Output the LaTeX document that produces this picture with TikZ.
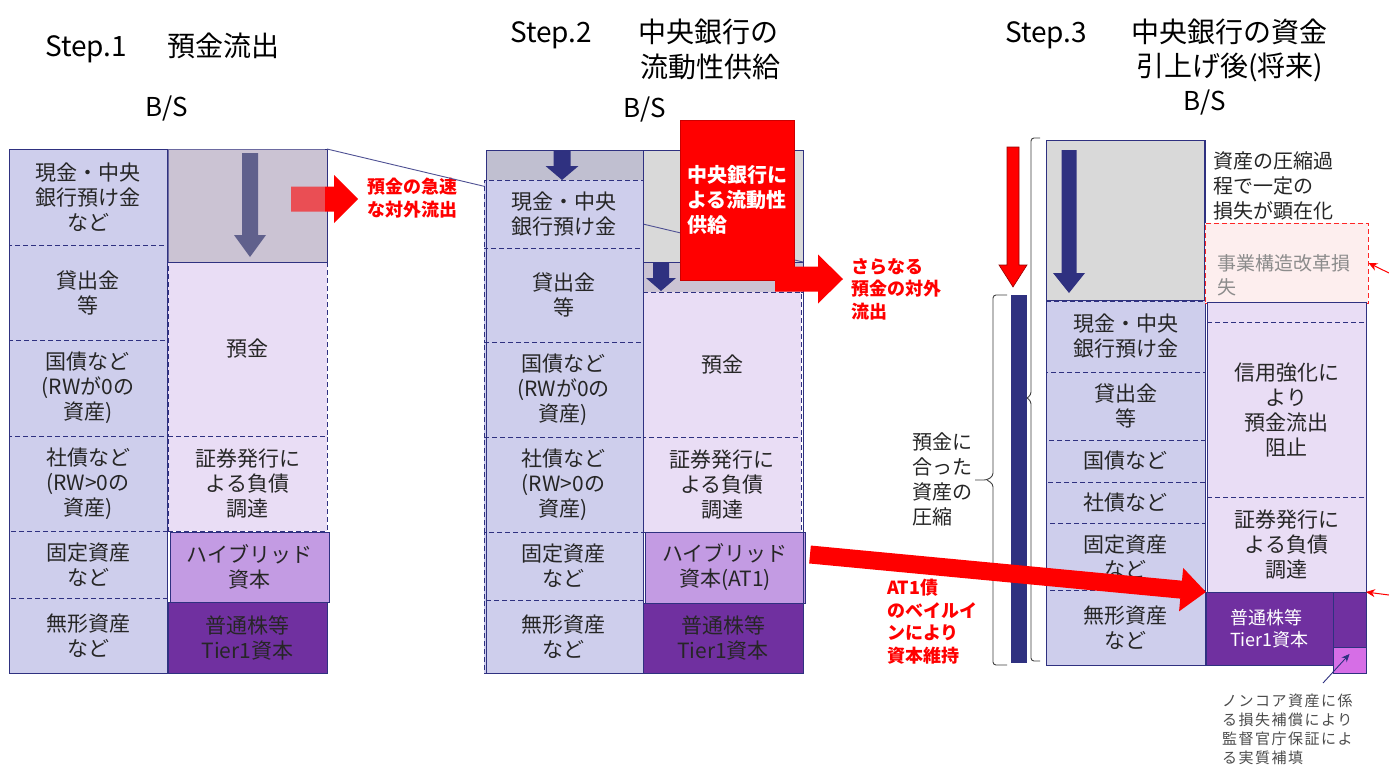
\documentclass[tikz,border=0pt]{standalone}
\usepackage{fontspec}
\setmainfont{Noto Sans CJK JP}
\usetikzlibrary{arrows.meta,calc}
\definecolor{navy}{RGB}{47,49,128}
\definecolor{navysoft}{RGB}{96,96,140}
\definecolor{assetfill}{RGB}{206,206,236}
\definecolor{liabfill}{RGB}{233,221,245}
\definecolor{hybfill}{RGB}{195,155,227}
\definecolor{cetfill}{RGB}{112,48,160}
\definecolor{greyA}{RGB}{203,195,211}
\definecolor{greyB}{RGB}{192,191,208}
\definecolor{greyC}{RGB}{217,217,217}
\definecolor{pinkbox}{RGB}{214,110,230}
\definecolor{lossfill}{RGB}{253,238,238}
\definecolor{textdark}{RGB}{38,38,38}
\definecolor{darkred}{RGB}{150,0,0}
\newcommand{\mkcell}[6][]{\node[cellbase,#1,minimum width={(#5-#3)*1pt},minimum height={(#6-#4)*1pt}] (#2) at ({(#3+#5)/2},{(#4+#6)/2})}
\newcommand{\dnarrow}[7][]{\filldraw[#1] ({#2-#5/2},#3) -- ({#2+#5/2},#3) -- ({#2+#5/2},{#4-#7}) -- ({#2+#6/2},{#4-#7}) -- (#2,#4) -- ({#2-#6/2},{#4-#7}) -- ({#2-#5/2},{#4-#7}) -- cycle;}
\newcommand{\rtarrow}[7][]{\filldraw[#1] (#2,{#4-#5/2}) -- ({#3-#7},{#4-#5/2}) -- ({#3-#7},{#4-#6/2}) -- (#3,#4) -- ({#3-#7},{#4+#6/2}) -- ({#3-#7},{#4+#5/2}) -- (#2,{#4+#5/2}) -- cycle;}
\tikzset{
  cellbase/.style={draw=navy,line width=0.9pt,inner sep=0pt,outer sep=0pt,align=center,text=textdark,font=\fontsize{21}{25}\selectfont},
  asset/.style={fill=assetfill,dash pattern=on 5pt off 3pt},
  liab/.style={fill=liabfill,dash pattern=on 5pt off 3pt},
  hyb/.style={fill=hybfill,solid},
  cet/.style={fill=cetfill,solid},
  greybox/.style={solid},
  frame/.style={draw=navy,line width=1pt},
  title/.style={font=\fontsize{28}{32}\selectfont,text=black,inner sep=0pt},
  bs/.style={font=\fontsize{26}{30}\selectfont,text=black,inner sep=0pt},
  redlabel/.style={font=\fontsize{18}{22.5}\selectfont\bfseries,text=red,align=left,inner sep=0pt,anchor=north west},
  plainlabel/.style={font=\fontsize{20}{25}\selectfont,text=textdark,align=left,inner sep=0pt,anchor=north west},
  thinlink/.style={draw=navy!85,line width=0.9pt},
  bracestyle/.style={draw=black!75,line width=0.9pt,rounded corners=3pt},
}
\begin{document}
\begin{tikzpicture}[x=1pt,y=-1pt]
\useasboundingbox (0,0) rectangle (1389,774);
\fill[white] (0,0) rectangle (1389,774);

% ---------- titles ----------
\node[title,anchor=base west] (t1) at (45,56) {Step.1\hspace{40pt}預金流出};
\node[bs] (bs1) at (167,109) {B/S};
\node[title,anchor=base west] (t2a) at (510,42) {Step.2\hspace{46pt}中央銀行の};
\node[title,anchor=base west] (t2b) at (640,77) {流動性供給};
\node[bs] (bs2) at (645,110) {B/S};
\node[title,anchor=base west] (t3a) at (1005,42) {Step.3\hspace{44pt}中央銀行の資金};
\node[title,anchor=base west] (t3b) at (1136,76) {引上げ後(将来)};
\node[bs] (bs3) at (1205,103) {B/S};

% ---------- Step 1 ----------
\mkcell[asset]{s1a}{9}{149}{167}{245}{現金・中央\\銀行預け金\\など};
\mkcell[asset]{s1b}{9}{245}{167}{340}{貸出金\\等};
\mkcell[asset]{s1c}{9}{340}{167}{436}{国債など\\(RWが0の\\資産)};
\mkcell[asset]{s1d}{9}{436}{167}{531}{社債など\\(RW>0の\\資産)};
\mkcell[asset]{s1e}{9}{531}{167}{598}{固定資産\\など};
\mkcell[asset]{s1f}{9}{598}{167}{673}{無形資産\\など};
\mkcell[liab]{s1dep}{168}{262}{327}{436}{預金};
\mkcell[liab]{s1sec}{168}{436}{327}{531}{証券発行に\\よる負債\\調達};
\mkcell[hyb]{s1hyb}{170}{532}{329}{602}{ハイブリッド\\資本};
\mkcell[cet]{s1cet}{168}{602}{327}{673}{普通株等\\Tier1資本};
\draw[frame] (s1a.north west) rectangle (s1f.south east);
\mkcell[greybox,fill=greyA]{s1g}{168}{149}{327}{262}{};
\rtarrow[fill=red,draw=none]{291}{358}{199}{25}{48}{24}
\fill[greyA,opacity=0.4] (s1g.north west) rectangle ($(s1g.south east)+(-2,0)$);
\dnarrow[fill=navysoft,draw=none]{250}{153}{257}{16}{32}{22}
\node[redlabel] (l1) at (367,178) {預金の急速\\な対外流出};

% ---------- Step 2 ----------
\mkcell[greybox,fill=greyC]{s2rg}{643}{150}{803}{262}{};
\mkcell[greybox,fill=greyA]{s2strip}{643}{262}{803}{292}{};
\draw[thinlink] (s1g.north east) -- (s2strip.north east);
\mkcell[greybox,fill=greyB]{s2s}{486}{150}{643}{180}{};
\mkcell[asset]{s2a}{484}{180}{643}{248}{現金・中央\\銀行預け金};
\mkcell[asset]{s2b}{484}{248}{643}{342}{貸出金\\等};
\mkcell[asset]{s2c}{484}{342}{643}{437}{国債など\\(RWが0の\\資産)};
\mkcell[asset]{s2d}{484}{437}{643}{532}{社債など\\(RW>0の\\資産)};
\mkcell[asset]{s2e}{484}{532}{643}{600}{固定資産\\など};
\mkcell[asset]{s2f}{484}{600}{643}{673}{無形資産\\など};
\mkcell[liab]{s2dep}{643}{292}{801}{437}{預金};
\mkcell[liab]{s2sec}{643}{437}{801}{532}{証券発行に\\よる負債\\調達};
\mkcell[hyb]{s2hyb}{645}{532}{805}{603}{ハイブリッド\\資本(AT1)};
\mkcell[cet]{s2cet}{643}{603}{803}{673}{普通株等\\Tier1資本};
\draw[frame] (s2s.north west) rectangle (s2f.south east);
\draw[frame] (s2rg.north west) rectangle (s2cet.south east);
\dnarrow[fill=navy,draw=none]{562}{150}{180}{17}{33}{14}
\dnarrow[fill=navy,draw=none]{661}{262}{291}{16}{30}{13}
\node[draw=red!80!black,fill=red,line width=0.8pt,minimum width=114pt,minimum height=160pt,inner sep=0pt,
      text=white,align=left,font=\fontsize{20}{25}\selectfont\bfseries] (s2cb) at (737,200)
      {中央銀行に\\よる流動性\\供給};
\rtarrow[fill=red,draw=none]{775}{843}{279}{25}{49}{25}
\node[redlabel] (l2) at (851,258) {さらなる\\預金の対外\\流出};

% ---------- Step 3 ----------
\mkcell[greybox,fill=greyC]{s3g}{1046}{140}{1204}{300}{};
\mkcell[asset]{s3a}{1046}{301}{1205}{372}{現金・中央\\銀行預け金};
\mkcell[asset]{s3b}{1046}{372}{1205}{440}{貸出金\\等};
\mkcell[asset]{s3c}{1046}{440}{1205}{482}{国債など};
\mkcell[asset]{s3d}{1046}{482}{1205}{523}{社債など};
\mkcell[asset]{s3e}{1046}{523}{1205}{590}{固定資産\\など};
\mkcell[asset]{s3f}{1046}{590}{1205}{665}{無形資産\\など};
\draw[frame] (s3g.north west) rectangle (s3f.south east);
\dnarrow[fill=navy,draw=none]{1069}{150}{293}{15}{32}{20}

\node[plainlabel] (l3top) at (1213,151) {資産の圧縮過\\程で一定の\\損失が顕在化};
\node[draw=red!85,fill=lossfill,dash pattern=on 5pt off 3pt,line width=1pt,minimum width=163pt,minimum height=80pt,inner sep=0pt] (s3loss) at (1286.5,263) {};
\node[anchor=west,inner sep=0pt,align=left,text=black!45,font=\fontsize{19}{24}\selectfont] (s3losst) at (1217,275) {事業構造改革損\\失};

\mkcell[greybox,fill=liabfill]{s3lav}{1207}{302}{1366}{592}{};
\mkcell[liab,fill=none]{s3dep}{1207}{322}{1366}{497}{信用強化に\\より\\預金流出\\阻止};
\mkcell[liab,fill=none]{s3sec}{1207}{497}{1366}{592}{証券発行に\\よる負債\\調達};
\mkcell[cet,text=white,align=left,font=\fontsize{18}{22}\selectfont]{s3cet}{1206}{592}{1333}{665}{普通株等\\Tier1資本};
\mkcell[cet]{s3small}{1333}{592}{1366}{647}{};
\mkcell[greybox,fill=pinkbox]{s3pink}{1333}{647}{1366}{673}{};

% left markers of step 3
\dnarrow[fill=red,draw=darkred,line width=0.6pt]{1013}{147}{287}{12}{28}{22}
\node[fill=navy,draw=navy,minimum width=15pt,minimum height=367pt,inner sep=0pt] (s3bar) at (1018.5,478.5) {};
\draw[bracestyle] (1007,295) -- (993,295) -- (993,476) -- (987,480) -- (975,480);
\draw[bracestyle] (987,480) -- (993,484) -- (993,665) -- (1007,665);
\draw[bracestyle] (1040,138) -- (1031,138) -- (1031,395) -- (1027,398);
\draw[bracestyle] (1027,398) -- (1031,401) -- (1031,661) -- (1040,661);
\node[plainlabel] (l3brace) at (912,432) {預金に\\合った\\資産の\\圧縮};

% AT1 bail-in arrow
\draw[red,line width=18pt,-{Triangle[length=25pt,width=42pt]}] ($(s2hyb.east)+(5,-13)$) -- (s3cet.north west);
\node[redlabel] (l4) at (887,579) {AT1債\\のベイルイ\\ンにより\\資本維持};

% guarantee annotation
\coordinate (annc) at (1323,683);
\draw[navy,line width=0.9pt,-{Stealth[length=8pt,width=7pt]}] (annc) -- ($(s3pink.center)+(0,-6)$);
\node[anchor=north west,inner sep=0pt,align=left,text=black!70,font=\fontsize{15}{19}\selectfont\addfontfeatures{LetterSpace=10}] (ann) at (1222,694)
  {ノンコア資産に係\\る損失補償により\\監督官庁保証によ\\る実質補填};

% arrows entering from the right edge
\coordinate (re1) at (1389,273);
\coordinate (re2) at (1389,595);
\draw[red,line width=1pt,-{Stealth[length=9pt,width=8pt]}] (re1) -- (s3loss.east);
\draw[red,line width=1pt,-{Stealth[length=9pt,width=8pt]}] (re2) -- (s3lav.south east);
\end{tikzpicture}
\end{document}
